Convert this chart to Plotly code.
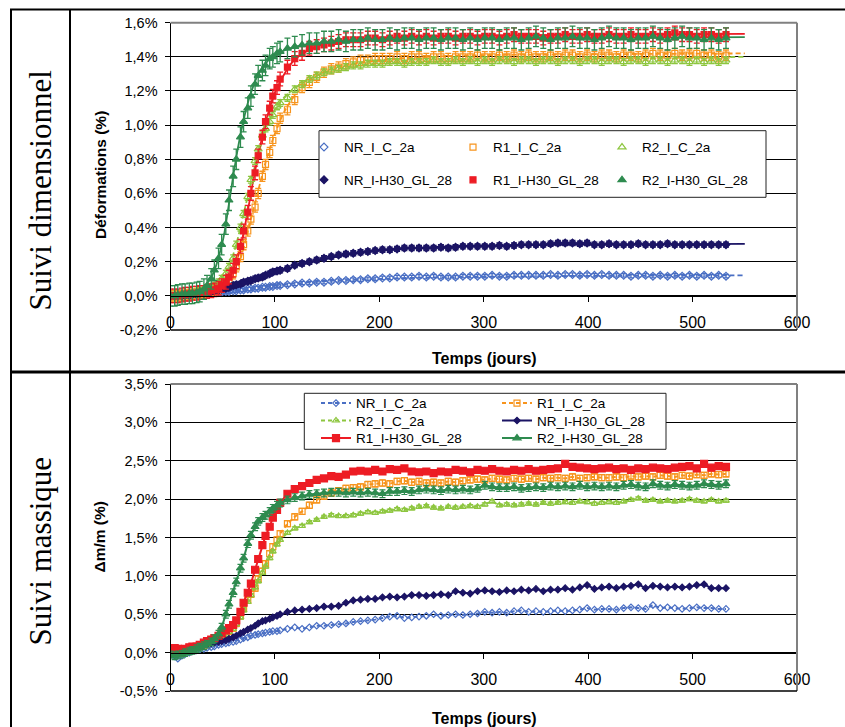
import plotly.graph_objects as go

# ---------------- data ----------------
jours = [0, 4, 7, 11, 14, 18, 21, 25, 28, 32,
         35, 39, 42, 46, 49, 53, 56, 60, 63, 67,
         70, 74, 77, 81, 84, 88, 91, 95, 98, 102,
         105,
         112, 119, 126, 133, 140, 147, 154, 161, 168, 175,
         182, 189, 196, 203, 210, 217, 224, 231, 238, 245,
         252, 259, 266, 273, 280, 287, 294, 301, 308, 315,
         322, 329, 336, 343, 350, 357, 364, 371, 378, 385,
         392, 399, 406, 413, 420, 427, 434, 441, 448, 455,
         462, 469, 476, 483, 490, 497, 504, 511, 518, 525,
         532]

noms = ["NR_I_C_2a", "R1_I_C_2a", "R2_I_C_2a",
        "NR_I-H30_GL_28", "R1_I-H30_GL_28", "R2_I-H30_GL_28"]

# Suivi dimensionnel : déformations (%)
def_NR_C = [0.000, 0.000, 0.000, 0.000, 0.005, 0.005, 0.005, 0.010, 0.010, 0.010,
            0.015, 0.015, 0.020, 0.020, 0.020, 0.025, 0.025, 0.030, 0.030, 0.035,
            0.035, 0.040, 0.040, 0.045, 0.045, 0.050, 0.050, 0.055, 0.055, 0.060,
            0.060,
            0.065, 0.070, 0.075, 0.075, 0.080, 0.080, 0.085, 0.090, 0.090, 0.095,
            0.095, 0.100, 0.100, 0.105, 0.105, 0.110, 0.110, 0.110, 0.115, 0.110,
            0.115, 0.110, 0.110, 0.110, 0.115, 0.115, 0.115, 0.115, 0.120, 0.115,
            0.115, 0.120, 0.120, 0.120, 0.120, 0.120, 0.125, 0.120, 0.125, 0.125,
            0.120, 0.125, 0.120, 0.125, 0.120, 0.120, 0.120, 0.115, 0.120, 0.120,
            0.115, 0.120, 0.115, 0.120, 0.115, 0.120, 0.115, 0.120, 0.115, 0.120,
            0.115]
def_R1_C = [0.000, 0.000, 0.000, 0.000, 0.005, 0.010, 0.010, 0.015, 0.020, 0.020,
            0.025, 0.030, 0.035, 0.040, 0.050, 0.070, 0.090, 0.130, 0.170, 0.230,
            0.300, 0.380, 0.450, 0.520, 0.600, 0.700, 0.770, 0.840, 0.910, 0.980,
            1.040,
            1.09, 1.15, 1.22, 1.25, 1.28, 1.31, 1.33, 1.34, 1.36, 1.37,
            1.38, 1.38, 1.39, 1.39, 1.39, 1.40, 1.39, 1.40, 1.40, 1.39,
            1.40, 1.40, 1.39, 1.40, 1.40, 1.40, 1.41, 1.40, 1.40, 1.41,
            1.40, 1.41, 1.40, 1.41, 1.40, 1.40, 1.41, 1.40, 1.41, 1.41,
            1.40, 1.41, 1.40, 1.41, 1.41, 1.40, 1.41, 1.41, 1.40, 1.41,
            1.42, 1.41, 1.41, 1.42, 1.41, 1.41, 1.42, 1.41, 1.41, 1.40,
            1.41]
def_R2_C = [0.000, 0.000, 0.000, 0.005, 0.010, 0.010, 0.015, 0.020, 0.025, 0.030,
            0.040, 0.050, 0.060, 0.080, 0.100, 0.130, 0.170, 0.220, 0.300, 0.400,
            0.480, 0.580, 0.680, 0.790, 0.860, 0.940, 0.980, 1.020, 1.060, 1.110,
            1.130,
            1.16, 1.21, 1.24, 1.27, 1.29, 1.31, 1.32, 1.33, 1.34, 1.35,
            1.35, 1.36, 1.36, 1.36, 1.37, 1.37, 1.36, 1.37, 1.37, 1.37,
            1.38, 1.37, 1.37, 1.38, 1.37, 1.38, 1.37, 1.38, 1.37, 1.38,
            1.38, 1.37, 1.38, 1.38, 1.37, 1.38, 1.38, 1.37, 1.38, 1.38,
            1.37, 1.38, 1.38, 1.37, 1.38, 1.38, 1.37, 1.38, 1.38, 1.37,
            1.38, 1.38, 1.37, 1.38, 1.38, 1.37, 1.38, 1.37, 1.38, 1.37,
            1.38]
def_NR_H = [0.000, 0.000, 0.000, 0.000, 0.005, 0.005, 0.010, 0.010, 0.015, 0.020,
            0.020, 0.025, 0.030, 0.035, 0.040, 0.045, 0.050, 0.060, 0.065, 0.070,
            0.080, 0.085, 0.090, 0.100, 0.105, 0.110, 0.120, 0.130, 0.140, 0.145,
            0.150,
            0.160, 0.180, 0.190, 0.200, 0.210, 0.220, 0.230, 0.240, 0.245, 0.250,
            0.255, 0.260, 0.265, 0.270, 0.270, 0.275, 0.280, 0.280, 0.280, 0.280,
            0.280, 0.285, 0.280, 0.285, 0.290, 0.290, 0.290, 0.290, 0.290, 0.295,
            0.290, 0.295, 0.300, 0.300, 0.300, 0.300, 0.305, 0.310, 0.310, 0.310,
            0.305, 0.310, 0.300, 0.300, 0.305, 0.300, 0.300, 0.300, 0.305, 0.300,
            0.300, 0.300, 0.305, 0.300, 0.300, 0.300, 0.300, 0.300, 0.300, 0.300,
            0.300]
def_R1_H = [0.000, 0.000, 0.000, 0.005, 0.010, 0.010, 0.015, 0.015, 0.020, 0.020,
            0.025, 0.030, 0.035, 0.045, 0.060, 0.080, 0.110, 0.150, 0.200, 0.290,
            0.380, 0.490, 0.600, 0.720, 0.820, 0.930, 1.020, 1.100, 1.170, 1.220,
            1.270,
            1.34, 1.39, 1.42, 1.45, 1.46, 1.47, 1.48, 1.49, 1.50, 1.50,
            1.50, 1.51, 1.51, 1.50, 1.51, 1.52, 1.51, 1.52, 1.51, 1.52,
            1.51, 1.52, 1.52, 1.51, 1.52, 1.52, 1.51, 1.52, 1.52, 1.51,
            1.52, 1.53, 1.52, 1.52, 1.52, 1.51, 1.52, 1.52, 1.53, 1.52,
            1.52, 1.53, 1.52, 1.52, 1.53, 1.52, 1.52, 1.53, 1.52, 1.52,
            1.53, 1.52, 1.53, 1.54, 1.53, 1.53, 1.52, 1.53, 1.53, 1.52,
            1.53]
def_R2_H = [0.000, 0.000, 0.005, 0.010, 0.010, 0.015, 0.015, 0.020, 0.025, 0.040,
            0.060, 0.100, 0.150, 0.220, 0.300, 0.420, 0.560, 0.700, 0.800, 0.930,
            1.020, 1.100, 1.170, 1.240, 1.290, 1.320, 1.350, 1.390, 1.400, 1.420,
            1.430,
            1.45, 1.46, 1.47, 1.48, 1.48, 1.49, 1.49, 1.50, 1.49, 1.50,
            1.50, 1.51, 1.50, 1.50, 1.51, 1.50, 1.51, 1.51, 1.50, 1.51,
            1.51, 1.50, 1.51, 1.51, 1.50, 1.51, 1.50, 1.51, 1.51, 1.50,
            1.51, 1.51, 1.50, 1.51, 1.52, 1.51, 1.50, 1.51, 1.51, 1.52,
            1.51, 1.51, 1.50, 1.51, 1.52, 1.51, 1.51, 1.50, 1.51, 1.51,
            1.52, 1.51, 1.50, 1.51, 1.52, 1.51, 1.51, 1.50, 1.51, 1.50,
            1.51]
err_def = [0.010, 0.030, 0.020, 0.015, 0.040, 0.060]

# courbes d'ajustement
fit_jours = [0, 20, 30, 40, 50, 55, 60, 65, 70, 75, 80, 85, 90, 95, 100,
             110, 120, 140, 160, 200, 250, 300, 400, 550]
fit_NR_C = [0, 0.005, 0.01, 0.015, 0.02, 0.025, 0.028, 0.032, 0.036, 0.04, 0.044,
            0.048, 0.052, 0.056, 0.06, 0.066, 0.072, 0.082, 0.09, 0.10, 0.108,
            0.112, 0.117, 0.12]
fit_R1_C = [0, 0.01, 0.02, 0.03, 0.05, 0.07, 0.11, 0.18, 0.28, 0.40, 0.52, 0.64,
            0.76, 0.86, 0.95, 1.09, 1.18, 1.29, 1.34, 1.38, 1.40, 1.41, 1.415, 1.42]
fit_R2_C = [0, 0.01, 0.02, 0.05, 0.11, 0.16, 0.24, 0.35, 0.48, 0.61, 0.74, 0.85,
            0.95, 1.03, 1.09, 1.17, 1.22, 1.29, 1.33, 1.36, 1.37, 1.38, 1.39, 1.40]
fit_NR_H = [0, 0.01, 0.015, 0.025, 0.04, 0.05, 0.06, 0.065, 0.075, 0.085, 0.095,
            0.105, 0.115, 0.125, 0.135, 0.155, 0.175, 0.205, 0.23, 0.265, 0.285,
            0.295, 0.30, 0.305]
fit_R1_H = [0, 0.01, 0.02, 0.03, 0.06, 0.09, 0.15, 0.24, 0.37, 0.53, 0.70, 0.85,
            0.99, 1.10, 1.19, 1.31, 1.39, 1.46, 1.49, 1.51, 1.52, 1.525, 1.53, 1.535]
fit_R2_H = [0, 0.01, 0.04, 0.12, 0.32, 0.50, 0.70, 0.88, 1.03, 1.15, 1.24, 1.31,
            1.35, 1.39, 1.41, 1.44, 1.46, 1.48, 1.49, 1.50, 1.505, 1.51, 1.51, 1.515]

# Suivi massique : delta m / m (%)
mass_NR_C = [0.00, -0.05, -0.08, -0.04, -0.02, 0.00, 0.02, 0.03, 0.04, 0.05,
             0.06, 0.07, 0.08, 0.10, 0.11, 0.12, 0.13, 0.14, 0.15, 0.17,
             0.19, 0.20, 0.22, 0.23, 0.24, 0.25, 0.26, 0.27, 0.28, 0.28,
             0.29,
             0.31, 0.33, 0.31, 0.33, 0.35, 0.35, 0.36, 0.37, 0.38, 0.40,
             0.41, 0.42, 0.43, 0.45, 0.47, 0.48, 0.45, 0.46, 0.47, 0.48,
             0.50, 0.48, 0.49, 0.50, 0.49, 0.50, 0.51, 0.53, 0.52, 0.53,
             0.52, 0.54, 0.55, 0.53, 0.54, 0.53, 0.54, 0.55, 0.54, 0.55,
             0.56, 0.58, 0.56, 0.57, 0.57, 0.56, 0.58, 0.59, 0.58, 0.57,
             0.62, 0.58, 0.59, 0.58, 0.57, 0.58, 0.59, 0.58, 0.58, 0.57,
             0.57]
mass_R1_C = [0.00, 0.01, 0.00, 0.01, 0.02, 0.04, 0.05, 0.07, 0.08, 0.10,
             0.12, 0.14, 0.16, 0.18, 0.21, 0.25, 0.28, 0.32, 0.38, 0.48,
             0.58, 0.68, 0.76, 0.84, 0.96, 1.06, 1.16, 1.29, 1.38, 1.47,
             1.55,
             1.68, 1.77, 1.84, 1.92, 1.99, 2.04, 2.08, 2.11, 2.14, 2.15,
             2.16, 2.19, 2.20, 2.21, 2.20, 2.23, 2.24, 2.22, 2.23, 2.21,
             2.22, 2.21, 2.23, 2.22, 2.24, 2.25, 2.26, 2.25, 2.27, 2.26,
             2.25, 2.27, 2.26, 2.27, 2.26, 2.28, 2.27, 2.28, 2.27, 2.29,
             2.27, 2.28, 2.29, 2.28, 2.28, 2.29, 2.28, 2.30, 2.29, 2.30,
             2.29, 2.31, 2.30, 2.29, 2.31, 2.30, 2.32, 2.31, 2.33, 2.32,
             2.33]
mass_R2_C = [-0.02, -0.02, -0.02, -0.01, 0.00, 0.02, 0.04, 0.05, 0.07, 0.09,
             0.11, 0.13, 0.15, 0.17, 0.20, 0.23, 0.27, 0.31, 0.37, 0.46,
             0.55, 0.66, 0.75, 0.85, 0.93, 1.04, 1.12, 1.23, 1.32, 1.41,
             1.47,
             1.56, 1.62, 1.65, 1.70, 1.73, 1.77, 1.79, 1.78, 1.78, 1.79,
             1.81, 1.83, 1.82, 1.84, 1.85, 1.87, 1.86, 1.88, 1.90, 1.91,
             1.89, 1.88, 1.90, 1.89, 1.90, 1.91, 1.90, 1.93, 1.97, 1.92,
             1.93, 1.92, 1.93, 1.94, 1.93, 1.95, 1.94, 1.95, 1.96, 1.95,
             1.97, 1.96, 1.94, 1.95, 1.96, 1.95, 1.97, 1.99, 2.01, 1.98,
             1.99, 1.97, 1.98, 1.97, 1.98, 2.00, 1.98, 1.97, 1.99, 1.97,
             1.98]
mass_NR_H = [0.00, 0.02, 0.03, 0.04, 0.05, 0.06, 0.07, 0.08, 0.09, 0.10,
             0.11, 0.12, 0.13, 0.14, 0.15, 0.16, 0.18, 0.20, 0.22, 0.25,
             0.27, 0.30, 0.32, 0.35, 0.38, 0.41, 0.42, 0.44, 0.46, 0.48,
             0.50,
             0.53, 0.55, 0.56, 0.57, 0.58, 0.60, 0.60, 0.61, 0.65, 0.68,
             0.69, 0.70, 0.70, 0.72, 0.73, 0.72, 0.73, 0.75, 0.75, 0.74,
             0.75, 0.76, 0.75, 0.80, 0.78, 0.77, 0.80, 0.81, 0.80, 0.79,
             0.81, 0.80, 0.82, 0.81, 0.83, 0.80, 0.82, 0.82, 0.84, 0.82,
             0.85, 0.88, 0.83, 0.85, 0.86, 0.84, 0.86, 0.87, 0.89, 0.84,
             0.87, 0.86, 0.85, 0.86, 0.85, 0.86, 0.88, 0.89, 0.84, 0.84,
             0.84]
mass_R1_H = [0.05, 0.06, 0.05, 0.04, 0.05, 0.07, 0.08, 0.08, 0.10, 0.13,
             0.15, 0.17, 0.19, 0.22, 0.25, 0.29, 0.32, 0.36, 0.42, 0.53,
             0.65, 0.78, 0.90, 1.08, 1.22, 1.40, 1.52, 1.64, 1.76, 1.86,
             1.95,
             2.07, 2.13, 2.17, 2.21, 2.25, 2.27, 2.30, 2.29, 2.32, 2.36,
             2.37, 2.36, 2.38, 2.36, 2.39, 2.38, 2.40, 2.36, 2.35, 2.36,
             2.34, 2.36, 2.35, 2.38, 2.37, 2.35, 2.38, 2.37, 2.39, 2.37,
             2.36, 2.38, 2.37, 2.39, 2.37, 2.38, 2.39, 2.40, 2.46, 2.42,
             2.41, 2.40, 2.39, 2.40, 2.41, 2.39, 2.40, 2.38, 2.40, 2.39,
             2.41, 2.40, 2.39, 2.41, 2.42, 2.43, 2.40, 2.46, 2.41, 2.43,
             2.42]
mass_R2_H = [-0.03, -0.04, -0.03, -0.02, 0.00, 0.02, 0.03, 0.05, 0.07, 0.09,
             0.11, 0.14, 0.18, 0.24, 0.33, 0.50, 0.63, 0.78, 0.92, 1.10,
             1.23, 1.42, 1.53, 1.64, 1.71, 1.76, 1.79, 1.84, 1.88, 1.92,
             1.95,
             1.99, 2.02, 2.04, 2.06, 2.07, 2.08, 2.09, 2.09, 2.08, 2.09,
             2.08, 2.09, 2.08, 2.07, 2.10, 2.10, 2.11, 2.10, 2.12, 2.13,
             2.12, 2.11, 2.13, 2.12, 2.13, 2.12, 2.14, 2.18, 2.16, 2.15,
             2.15, 2.16, 2.14, 2.15, 2.16, 2.15, 2.17, 2.16, 2.17, 2.16,
             2.18, 2.16, 2.17, 2.16, 2.17, 2.16, 2.18, 2.19, 2.17, 2.16,
             2.20, 2.18, 2.17, 2.19, 2.18, 2.17, 2.18, 2.20, 2.19, 2.18,
             2.20]
err_mass = [0.0, 0.04, 0.02, 0.0, 0.03, 0.05]

x_ticks = [0, 100, 200, 300, 400, 500, 600]
def_ticks = [-0.2, 0.0, 0.2, 0.4, 0.6, 0.8, 1.0, 1.2, 1.4, 1.6]
def_ticktext = ["-0,2%", "0,0%", "0,2%", "0,4%", "0,6%", "0,8%",
                "1,0%", "1,2%", "1,4%", "1,6%"]
mass_ticks = [-0.5, 0.0, 0.5, 1.0, 1.5, 2.0, 2.5, 3.0, 3.5]
mass_ticktext = ["-0,5%", "0,0%", "0,5%", "1,0%", "1,5%", "2,0%",
                 "2,5%", "3,0%", "3,5%"]

def_series = [def_NR_C, def_R1_C, def_R2_C, def_NR_H, def_R1_H, def_R2_H]
fit_series = [fit_NR_C, fit_R1_C, fit_R2_C, fit_NR_H, fit_R1_H, fit_R2_H]
mass_series = [mass_NR_C, mass_R1_C, mass_R2_C, mass_NR_H, mass_R1_H, mass_R2_H]

# ---------------- style ----------------
W, H = 845, 727
SANS = "Liberation Sans, Arial, sans-serif"
SERIF = "Liberation Serif, Times New Roman, serif"
couleurs = ["#4A6FC4", "#F7941D", "#8DC63F", "#1B1464", "#ED1C24", "#2E8B4F"]
symboles = ["diamond-open", "square-open", "triangle-up-open",
            "diamond", "square", "triangle-up"]
tailles = [6, 6, 7, 6, 6, 7]
tailles_m = [5, 6, 6, 5, 7, 7]
pointilles = ["4px,3px", "4px,3px", "4px,3px", "solid", "solid", "solid"]


def px_x(p):
    return p / W


def px_y(p):
    return 1 - p / H


X_DOM = [px_x(170.5), px_x(797)]
TOP_DOM = [px_y(330), px_y(22.7)]
BOT_DOM = [px_y(691), px_y(384)]
TOP_RANGE = [-0.2, 1.6]
BOT_RANGE = [-0.5, 3.5]


def zero_pos(dom, rng):
    return dom[0] + (0 - rng[0]) / (rng[1] - rng[0]) * (dom[1] - dom[0])


fig = go.Figure()

# --- haut : courbes d'ajustement
for i in range(6):
    fig.add_trace(go.Scatter(
        x=fit_jours, y=fit_series[i], mode="lines",
        line=dict(color=couleurs[i], width=1.8, shape="spline",
                  dash=("5px,3px" if i < 3 else "solid")),
        showlegend=False, hoverinfo="skip", xaxis="x", yaxis="y"))

# --- haut : mesures
for i in range(6):
    fig.add_trace(go.Scatter(
        x=jours, y=def_series[i], mode="markers", name=noms[i],
        marker=dict(symbol=symboles[i], size=tailles[i], color=couleurs[i],
                    line=dict(color=couleurs[i], width=1.2)),
        error_y=dict(type="data", array=[err_def[i]] * len(jours),
                     color=couleurs[i], thickness=1.3, width=3),
        legend=("legend" if i < 3 else "legend2"),
        xaxis="x", yaxis="y"))

# --- bas : mesures
bas_legendes = ["legend3", "legend3", "legend4", "legend4", "legend5", "legend5"]
for i in range(6):
    fig.add_trace(go.Scatter(
        x=jours, y=mass_series[i], mode="lines+markers", name=noms[i],
        line=dict(color=couleurs[i], width=2, dash=pointilles[i]),
        marker=dict(symbol=symboles[i], size=tailles_m[i], color=couleurs[i],
                    line=dict(color=couleurs[i], width=1.2)),
        error_y=dict(type="data", array=[err_mass[i]] * len(jours),
                     color=couleurs[i], thickness=1.2, width=3,
                     visible=err_mass[i] > 0),
        legend=bas_legendes[i],
        xaxis="x2", yaxis="y2"))

axis_common = dict(showline=True, linecolor="black", linewidth=1,
                   ticks="outside", ticklen=5, tickcolor="black",
                   zeroline=False, automargin=False)

fig.update_layout(
    width=W, height=H, autosize=False,
    margin=dict(l=0, r=0, t=0, b=0, pad=0, autoexpand=False),
    paper_bgcolor="white", plot_bgcolor="white",
    font=dict(family=SANS, color="black"),
    xaxis=dict(domain=X_DOM, range=[0, 600], anchor="free",
               position=zero_pos(TOP_DOM, TOP_RANGE),
               tickvals=x_ticks, showgrid=False,
               tickfont=dict(size=16, family=SANS), ticklabelstandoff=7,
               **axis_common),
    yaxis=dict(domain=TOP_DOM, range=TOP_RANGE, anchor="x",
               tickvals=def_ticks, ticktext=def_ticktext,
               showgrid=True, gridcolor="black", gridwidth=1,
               tickfont=dict(size=14.5, family=SANS), ticklabelstandoff=4,
               **axis_common),
    xaxis2=dict(domain=X_DOM, range=[0, 600], anchor="free",
                position=zero_pos(BOT_DOM, BOT_RANGE),
                tickvals=x_ticks, showgrid=False,
                tickfont=dict(size=16, family=SANS), ticklabelstandoff=7,
                **axis_common),
    yaxis2=dict(domain=BOT_DOM, range=BOT_RANGE, anchor="x2",
                tickvals=mass_ticks, ticktext=mass_ticktext,
                showgrid=True, gridcolor="black", gridwidth=1,
                tickfont=dict(size=14.5, family=SANS), ticklabelstandoff=4,
                **axis_common),
)

leg_common = dict(orientation="h", xanchor="left", yanchor="middle",
                   bgcolor="rgba(0,0,0,0)", borderwidth=0,
                   font=dict(size=13.5, family=SANS, color="black"),
                   entrywidthmode="pixels", itemwidth=30)
fig.update_layout(
    legend=dict(x=px_x(304), y=px_y(147.3), entrywidth=104, **leg_common),
    legend2=dict(x=px_x(304), y=px_y(180), entrywidth=104, **leg_common),
    legend3=dict(x=px_x(316), y=px_y(403.3), entrywidth=136, **leg_common),
    legend4=dict(x=px_x(316), y=px_y(420.7), entrywidth=136, **leg_common),
    legend5=dict(x=px_x(316), y=px_y(438.3), entrywidth=136, **leg_common),
)

shapes = []
# cadres des graphiques
for xr, yr in (("x domain", "y domain"), ("x2 domain", "y2 domain")):
    shapes.append(dict(type="line", xref=xr, yref=yr, x0=0, x1=1, y0=1, y1=1,
                       line=dict(color="#808080", width=2), layer="above"))
    shapes.append(dict(type="line", xref=xr, yref=yr, x0=1, x1=1, y0=0, y1=1,
                       line=dict(color="#808080", width=2), layer="above"))
    shapes.append(dict(type="line", xref=xr, yref=yr, x0=0, x1=1, y0=0, y1=0,
                       line=dict(color="black", width=1.5), layer="above"))
# cadres des légendes
shapes.append(dict(type="rect", xref="paper", yref="paper",
                   x0=px_x(319), x1=px_x(766), y0=px_y(197.3), y1=px_y(130.7),
                   fillcolor="white", line=dict(color="#222222", width=1),
                   layer="above"))
shapes.append(dict(type="rect", xref="paper", yref="paper",
                   x0=px_x(304.3), x1=px_x(666), y0=px_y(449.3), y1=px_y(393.3),
                   fillcolor="white", line=dict(color="#222222", width=1),
                   layer="above"))
# tableau
shapes.append(dict(type="line", xref="paper", yref="paper",
                   x0=px_x(10), x1=1.01, y0=px_y(9.5), y1=px_y(9.5),
                   line=dict(color="black", width=2)))
shapes.append(dict(type="line", xref="paper", yref="paper",
                   x0=px_x(11), x1=px_x(11), y0=-0.01, y1=px_y(9.5),
                   line=dict(color="black", width=2)))
shapes.append(dict(type="line", xref="paper", yref="paper",
                   x0=px_x(70), x1=px_x(70), y0=-0.01, y1=px_y(9.5),
                   line=dict(color="black", width=2)))
shapes.append(dict(type="line", xref="paper", yref="paper",
                   x0=px_x(10), x1=1.01, y0=px_y(372), y1=px_y(372),
                   line=dict(color="black", width=3)))
fig.update_layout(shapes=shapes)

ann = [
    dict(text="Suivi dimensionnel", x=px_x(40), y=px_y(190.5), textangle=-90,
         font=dict(family=SERIF, size=31, color="black")),
    dict(text="Suivi massique", x=px_x(40), y=px_y(551.5), textangle=-90,
         font=dict(family=SERIF, size=31, color="black")),
    dict(text="<b>Déformations (%)</b>", x=px_x(100), y=px_y(175), textangle=-90,
         font=dict(family=SANS, size=15.5, color="black")),
    dict(text="<b>Δm/m (%)</b>", x=px_x(99), y=px_y(537.5), textangle=-90,
         font=dict(family=SANS, size=15.5, color="black")),
    dict(text="<b>Temps (jours)</b>", x=px_x(484), y=px_y(358),
         font=dict(family=SANS, size=16, color="black")),
    dict(text="<b>Temps (jours)</b>", x=px_x(484), y=px_y(718.3),
         font=dict(family=SANS, size=16, color="black")),
]
for a in ann:
    a.update(xref="paper", yref="paper", showarrow=False,
             xanchor="center", yanchor="middle")
fig.update_layout(annotations=ann)

fig.write_html(
    "out.html",
    config={"displayModeBar": False, "responsive": False},
    post_script="document.body.style.margin='0';"
                "document.body.style.overflow='hidden';")
